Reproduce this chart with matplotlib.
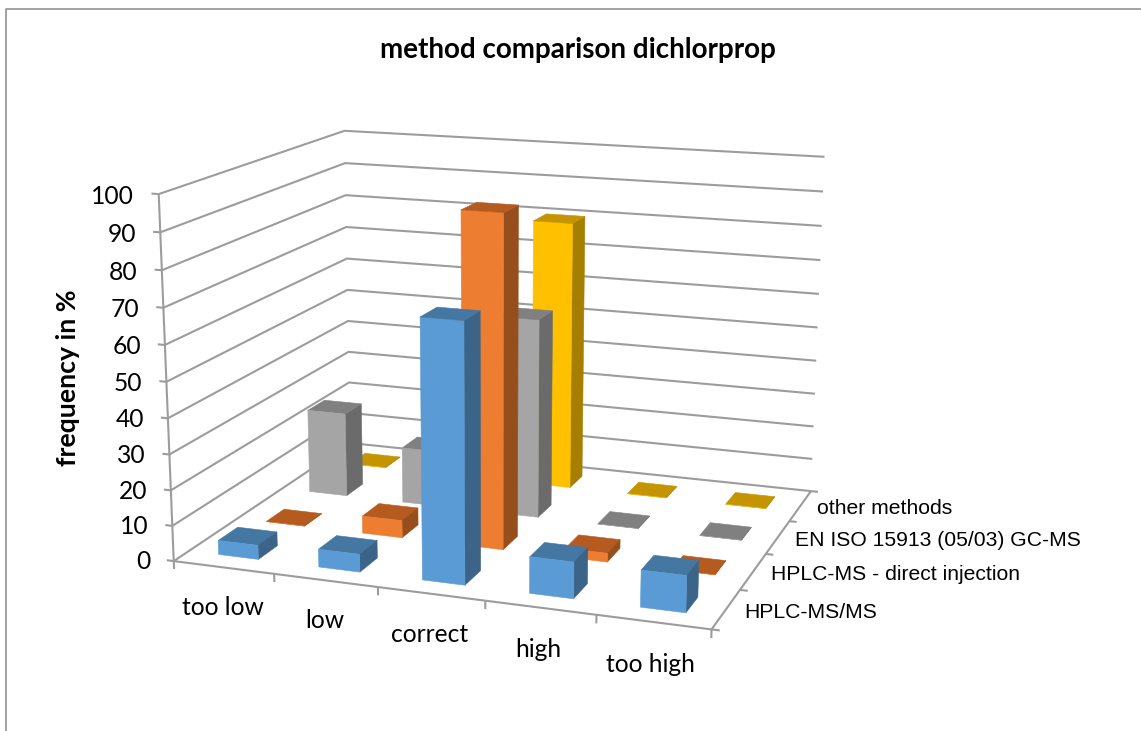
import numpy as np
import matplotlib
matplotlib.use('Agg')
import matplotlib.pyplot as plt
from matplotlib.lines import Line2D
from mpl_toolkits.mplot3d import Axes3D, proj3d

W, H = 1141, 731

categories = ['too low', 'low', 'correct', 'high', 'too high']
series_names = ['HPLC-MS/MS', 'HPLC-MS - direct injection',
                'EN ISO 15913 (05/03) GC-MS', 'other methods']
yticks = [0, 10, 20, 30, 40, 50, 60, 70, 80, 90, 100]

hplc_msms = [4, 5, 71, 10, 10]
hplc_direct = [0, 5, 93.5, 2.5, 0]
en_iso = [25, 16.5, 58, 0, 0]
other = [0, 0, 80, 0, 0]
series_values = [hplc_msms, hplc_direct, en_iso, other]

# front, top, side
series_colors = [('#5B9BD5', '#4577A3', '#3C6488'),
                 ('#ED7D31', '#B65B20', '#964E1C'),
                 ('#A5A5A5', '#808080', '#6B6B6B'),
                 ('#FFC000', '#C49500', '#A67F00')]

# camera calibration: box corners (x, y, z) and where they sit in the image
box_pts = [(0, 0, 0), (0, 0, 100), (0, 4, 0), (0, 4, 100),
           (5, 4, 0), (5, 4, 100), (5, 0, 0)]
img_pts = [(174, 561), (158.3, 194.3), (349.8, 443), (345, 130.7),
           (811, 491.3), (824.3, 156.7), (711.7, 629.3)]


def camera_matrix(box, img):
    rows = []
    for (x, y, z), (u, v) in zip(box, img):
        p = [x, y, z, 1]
        rows.append(p + [0, 0, 0, 0] + [-u * c for c in p])
        rows.append([0, 0, 0, 0] + p + [-v * c for c in p])
    P = np.linalg.svd(np.array(rows, dtype=float))[2][-1].reshape(3, 4)
    P = P / P[2, 3]
    # depth row: -1/w grows with distance from the viewer
    return np.array([P[0], P[1], [0, 0, 0, -1], P[2]])


M = camera_matrix(box_pts, img_pts)

fig = plt.figure(figsize=(W / 100, H / 100), dpi=100)
off = (W - H) / 2
ax = fig.add_axes([0, -off / H, 1, W / H], projection='3d', computed_zorder=False)
ax.set_proj_type('ortho')  # no clipping of lines to the unit cube
ax.get_proj = lambda: M
ax.set_axis_off()
ax.viewLim.intervalx = (0, W)
ax.viewLim.intervaly = (H + off, -off)


def label(x, y, z, s, **kw):
    px, py, _ = proj3d.proj_transform(x, y, z, M)
    ax.text2D(px, py, s, transform=ax.transData, color='black', zorder=100, **kw)


line = dict(color='#9C9C9C', lw=1.5, zorder=1, solid_capstyle='butt')
nx, ny = len(categories), len(series_names)
for v in yticks:
    ax.plot([0, 0, nx], [0, ny, ny], [v, v, v], **line)
    ax.plot([-0.07, 0], [0, 0], [v, v], **line)
    label(-0.24, 0, v - 1, str(v), ha='right', va='center', fontsize=17.7, family='Lato')
ax.plot([0, 0], [0, 0], [0, 100], **line)
ax.plot([0, nx, nx], [0, 0, ny], [0, 0, 0], **line)
for i in range(nx + 1):
    ax.plot([i, i], [0, 0], [0, -2.3], **line)
for j in range(ny + 1):
    ax.plot([nx, nx + 0.07], [j, j], [0, 0], **line)

bar_w = 0.4
bar_d = 0.4
clear = (0, 0, 0, 0)
order = 2
for j in range(ny - 1, -1, -1):
    front, top, side = series_colors[j]
    for i in range(nx):
        # faces: bottom, top, front, back, left, right
        cols = [clear, top, front, clear, clear, side]
        ax.bar3d(i + 0.5 - bar_w / 2, j + 0.5 - bar_d / 2, 0, bar_w, bar_d,
                 series_values[j][i], color=cols, edgecolor=cols, linewidth=0.4,
                 shade=False, zorder=order)
        order += 1

for i, name in enumerate(categories):
    label(i + 0.48, 0, -11.4, name, ha='center', va='center', fontsize=17.7, family='Lato')
for j, name in enumerate(series_names):
    label(nx + 0.16, j + 0.5, -0.3, name, ha='left', va='center', fontsize=15.2,
          family='Liberation Sans')

fig.text(578 / W, 1 - 50 / H, 'method comparison dichlorprop', ha='center', va='center',
         fontsize=20, fontweight='bold', family='Lato')
fig.text(68 / W, 1 - 378 / H, 'frequency in %', ha='center', va='center', rotation=90,
         fontsize=19.2, fontweight='bold', family='Lato')

fig.add_artist(Line2D([6 / W, 6 / W, 1], [0, 1 - 8.5 / H, 1 - 8.5 / H],
                      transform=fig.transFigure, color='#929292', lw=1.2))

fig.savefig('out.png', dpi=100)
